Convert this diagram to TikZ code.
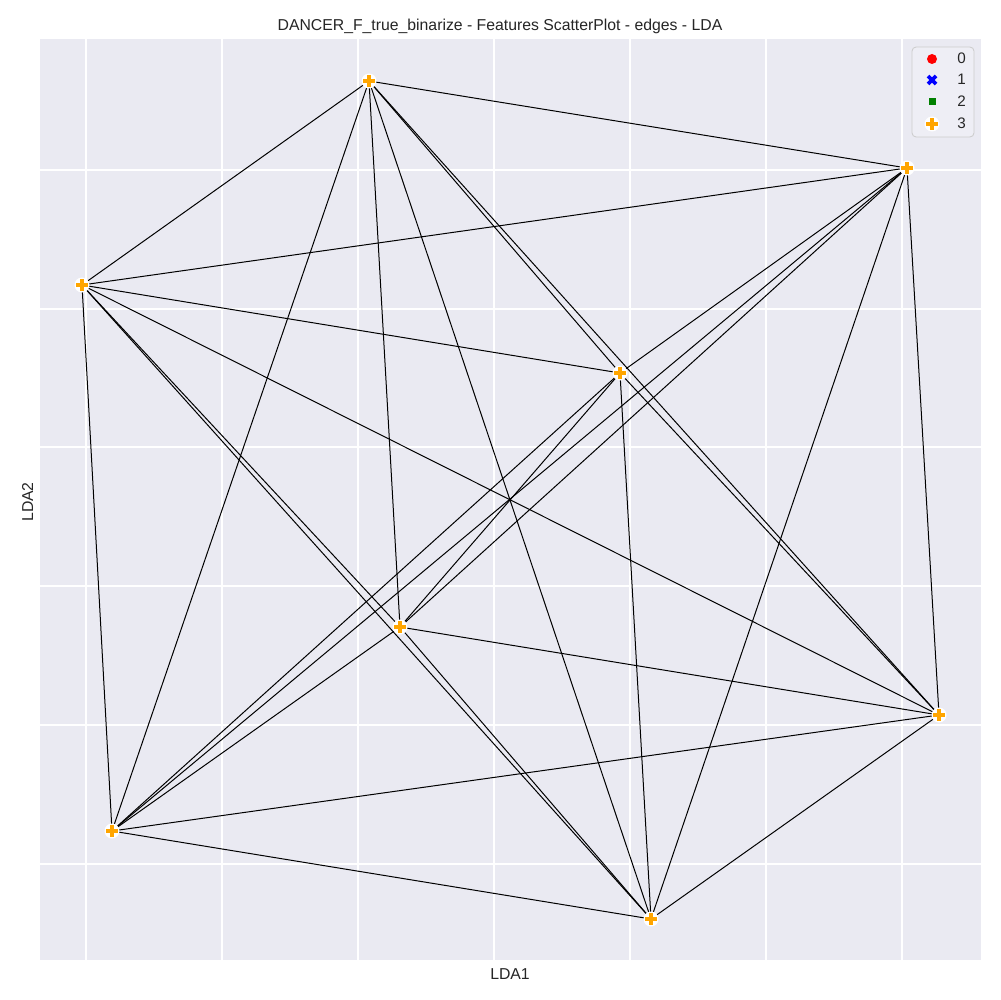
\documentclass[tikz,border=0pt]{standalone}
\usepackage{fontspec}
\setmainfont{Liberation Sans}
\definecolor{axbg}{HTML}{EAEAF2}
\definecolor{legedge}{HTML}{CCCCCC}
\definecolor{mkorange}{HTML}{FFA500}
\definecolor{mkgreen}{HTML}{008000}
\definecolor{txt}{HTML}{262626}
\tikzset{
  vert/.style={coordinate},
  edge/.style={draw=black, line width=0.72pt},
  gridline/.style={draw=white, line width=1.1pt},
  plusmark/.pic={
    \fill[white] (0,0) circle (7.5);
    \path[fill=mkorange, draw=white, line width=0.7pt]
      (-2.2,-6.5)--(2.2,-6.5)--(2.2,-2.2)--(6.5,-2.2)--(6.5,2.2)--(2.2,2.2)--(2.2,6.5)--(-2.2,6.5)--(-2.2,2.2)--(-6.5,2.2)--(-6.5,-2.2)--(-2.2,-2.2)--cycle;
  },
  lbl/.style={text=txt, font=\fontsize{11.4}{13}\selectfont, inner sep=0pt},
  leglbl/.style={text=txt, font=\fontsize{11}{13}\selectfont, inner sep=0pt, anchor=base east}
}
\begin{document}
\begin{tikzpicture}[x=0.01in, y=-0.01in]
\useasboundingbox[fill=white] (0,0) rectangle (1000,1000);
% axes background
\fill[axbg] (40,39) rectangle (981,960);
% grid
\foreach \gx in {86,222,358,494,630,766,902} \path[gridline] (\gx,39) -- (\gx,960);
\foreach \gy in {170,309,447,586,725,864} \path[gridline] (40,\gy) -- (981,\gy);
% vertices
\node[vert] (A) at (369,81) {};
\node[vert] (B) at (907,168) {};
\node[vert] (C) at (82,285) {};
\node[vert] (D) at (620,373) {};
\node[vert] (E) at (400,627) {};
\node[vert] (F) at (939,715) {};
\node[vert] (G) at (112,831) {};
\node[vert] (H) at (651,919) {};
% edges (complete graph)
\foreach \u/\v in {A/B,A/C,A/D,A/E,A/F,A/G,A/H,
                   B/C,B/D,B/E,B/F,B/G,B/H,
                   C/D,C/E,C/F,C/G,C/H,
                   D/E,D/F,D/G,D/H,
                   E/F,E/G,E/H,
                   F/G,F/H,
                   G/H}
  \path[edge] (\u) -- (\v);
% markers
\foreach \n in {A,B,C,D,E,F,G,H} \pic at (\n) {plusmark};
% title and axis labels
\node[lbl, anchor=base] (title) at (500,31) {DANCER\_F\_true\_binarize - Features ScatterPlot - edges - LDA};
\node[lbl, anchor=base] (xlab) at (510,979) {LDA1};
\node[lbl, anchor=base, rotate=90] (ylab) at (33,502) {LDA2};
% legend
\path[draw=legedge, fill=axbg!80!white, rounded corners=3, line width=0.6pt] (912,47) rectangle (974,137);
\coordinate (leg) at (943,92);
\fill[red] (932,59) circle (5);
\draw[blue, line width=2.6] (928,76) -- (936,84) (928,84) -- (936,76);
\fill[mkgreen] (928.5,98.5) rectangle (935.5,105.5);
\pic at (932,124) {plusmark};
\node[leglbl] (l0) at (966,63.5) {0};
\node[leglbl] (l1) at (966,85) {1};
\node[leglbl] (l2) at (966,106.5) {2};
\node[leglbl] (l3) at (966,128.5) {3};
\end{tikzpicture}
\end{document}
